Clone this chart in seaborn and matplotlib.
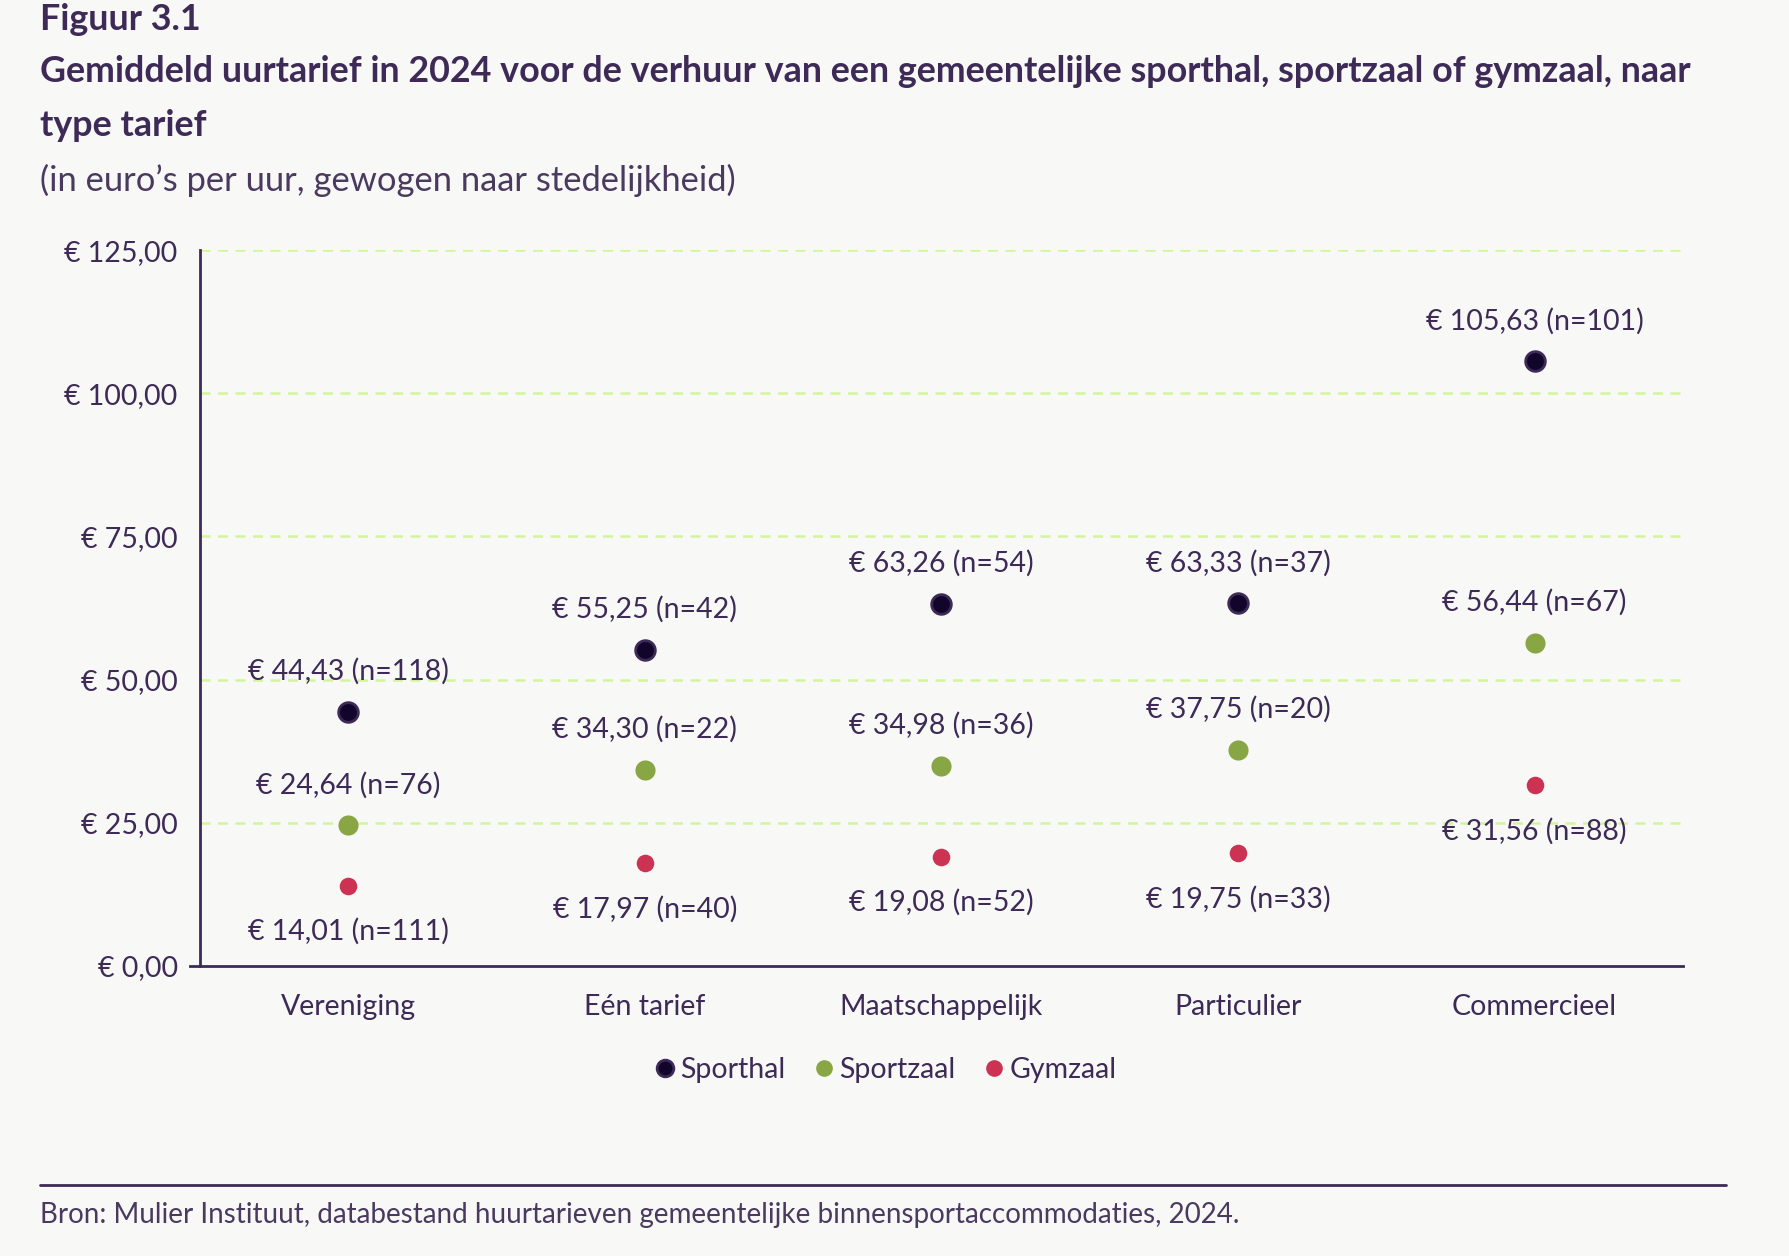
import pandas as pd
import matplotlib.pyplot as plt
import seaborn as sns
from matplotlib.lines import Line2D

# Data
categories = ['Vereniging', 'Eén tarief', 'Maatschappelijk', 'Particulier', 'Commercieel']
sporthal = [44.43, 55.25, 63.26, 63.33, 105.63]
sporthal_n = [118, 42, 54, 37, 101]
sportzaal = [24.64, 34.30, 34.98, 37.75, 56.44]
sportzaal_n = [76, 22, 36, 20, 67]
gymzaal = [14.01, 17.97, 19.08, 19.75, 31.56]
gymzaal_n = [111, 40, 52, 33, 88]
series = ['Sporthal', 'Sportzaal', 'Gymzaal']
y_ticks = [0, 25, 50, 75, 100, 125]
y_ticklabels = ['€ 0,00', '€ 25,00', '€ 50,00', '€ 75,00', '€ 100,00', '€ 125,00']

rows = []
for s, vals, ns in [('Sporthal', sporthal, sporthal_n),
                    ('Sportzaal', sportzaal, sportzaal_n),
                    ('Gymzaal', gymzaal, gymzaal_n)]:
    for c, v, n in zip(categories, vals, ns):
        rows.append({'type': s, 'cat': c, 'waarde': v, 'n': n})
df = pd.DataFrame(rows)

purple = '#3d2a56'
bg = '#f8f8f6'
colors = {'Sporthal': '#12052b', 'Sportzaal': '#88a644', 'Gymzaal': '#cc3352'}
sizes = {'Sporthal': 200, 'Sportzaal': 210, 'Gymzaal': 160}
fs = 20.5

sns.set_style('white')
plt.rcParams['font.family'] = ['Lato', 'DejaVu Sans']
plt.rcParams['text.color'] = purple

fig = plt.figure(figsize=(17.9, 12.56), dpi=100, facecolor=bg)
ax = fig.add_axes([0.1117, 0.2309, 0.8285, 0.5700])
ax.set_facecolor(bg)

for s in series:
    sub = df[df['type'] == s]
    sns.scatterplot(data=sub, x='cat', y='waarde', ax=ax, color=colors[s], s=sizes[s],
                    edgecolor='#3d2a56' if s == 'Sporthal' else colors[s],
                    linewidth=2 if s == 'Sporthal' else 0, zorder=3, legend=False)

# value labels
for _, r in df.iterrows():
    xi = categories.index(r['cat'])
    txt = '€ ' + f"{r['waarde']:.2f}".replace('.', ',') + f" (n={r['n']})"
    if r['type'] == 'Gymzaal':
        ax.annotate(txt, (xi, r['waarde']), xytext=(0, -46), textcoords='offset pixels',
                    ha='center', va='center', fontsize=fs, color=purple)
    else:
        ax.annotate(txt, (xi, r['waarde']), xytext=(0, 40), textcoords='offset pixels',
                    ha='center', va='center', fontsize=fs, color=purple)

ax.set_xlim(-0.5, 4.5)
ax.set_ylim(0, 125)
ax.set_yticks(y_ticks)
ax.set_yticklabels(y_ticklabels, fontsize=fs, color=purple)
ax.set_xticks(range(len(categories)))
ax.set_xticklabels(categories, fontsize=fs, color=purple)
ax.tick_params(axis='x', length=0, pad=20)
ax.tick_params(axis='y', length=8, width=2, color=purple, direction='out', pad=8)
ax.set_xlabel('')
ax.set_ylabel('')

for yv in y_ticks[1:]:
    ax.axhline(yv, color='#d2f59c', linestyle=(0, (4, 3)), linewidth=1.8, zorder=1)

for side in ['top', 'right']:
    ax.spines[side].set_visible(False)
ax.spines['left'].set_color(purple)
ax.spines['left'].set_linewidth(2)
ax.spines['bottom'].set_color(purple)
ax.spines['bottom'].set_linewidth(2)
ax.spines['bottom'].set_bounds(-0.535, 4.5)

# legend
handles = [Line2D([], [], marker='o', linestyle='', markersize=12,
                  markerfacecolor=colors[s],
                  markeredgecolor='#3d2a56' if s == 'Sporthal' else colors[s],
                  markeredgewidth=2 if s == 'Sporthal' else 0) for s in series]
leg = fig.legend(handles, series, loc='center', bbox_to_anchor=(0.4935, 1 - 1070 / 1256),
                 ncol=3, frameon=False, fontsize=fs, handletextpad=0.05,
                 columnspacing=0.84, handlelength=1.0)
for t in leg.get_texts():
    t.set_color(purple)

# titles
fig.text(0.0223, 1 - 20 / 1256, 'Figuur 3.1', fontsize=25.8, fontweight='bold', color=purple, va='center')
fig.text(0.0223, 1 - 72 / 1256,
         'Gemiddeld uurtarief in 2024 voor de verhuur van een gemeentelijke sporthal, sportzaal of gymzaal, naar',
         fontsize=25.8, fontweight='bold', color=purple, va='center')
fig.text(0.0223, 1 - 126 / 1256, 'type tarief', fontsize=25.8, fontweight='bold', color=purple, va='center')
fig.text(0.0223, 1 - 180 / 1256, '(in euro’s per uur, gewogen naar stedelijkheid)',
         fontsize=24.8, fontweight='normal', color='#4a3a60', va='center')

# footer
fig.add_artist(Line2D([40 / 1790, 1726 / 1790], [1 - 1185 / 1256, 1 - 1185 / 1256],
                      color=purple, linewidth=2))
fig.text(0.0223, 1 - 1215 / 1256,
         'Bron: Mulier Instituut, databestand huurtarieven gemeentelijke binnensportaccommodaties, 2024.',
         fontsize=20.0, fontweight='normal', color='#4a3a60', va='center')

plt.savefig('out.png', dpi=100, facecolor=bg)
plt.close()
